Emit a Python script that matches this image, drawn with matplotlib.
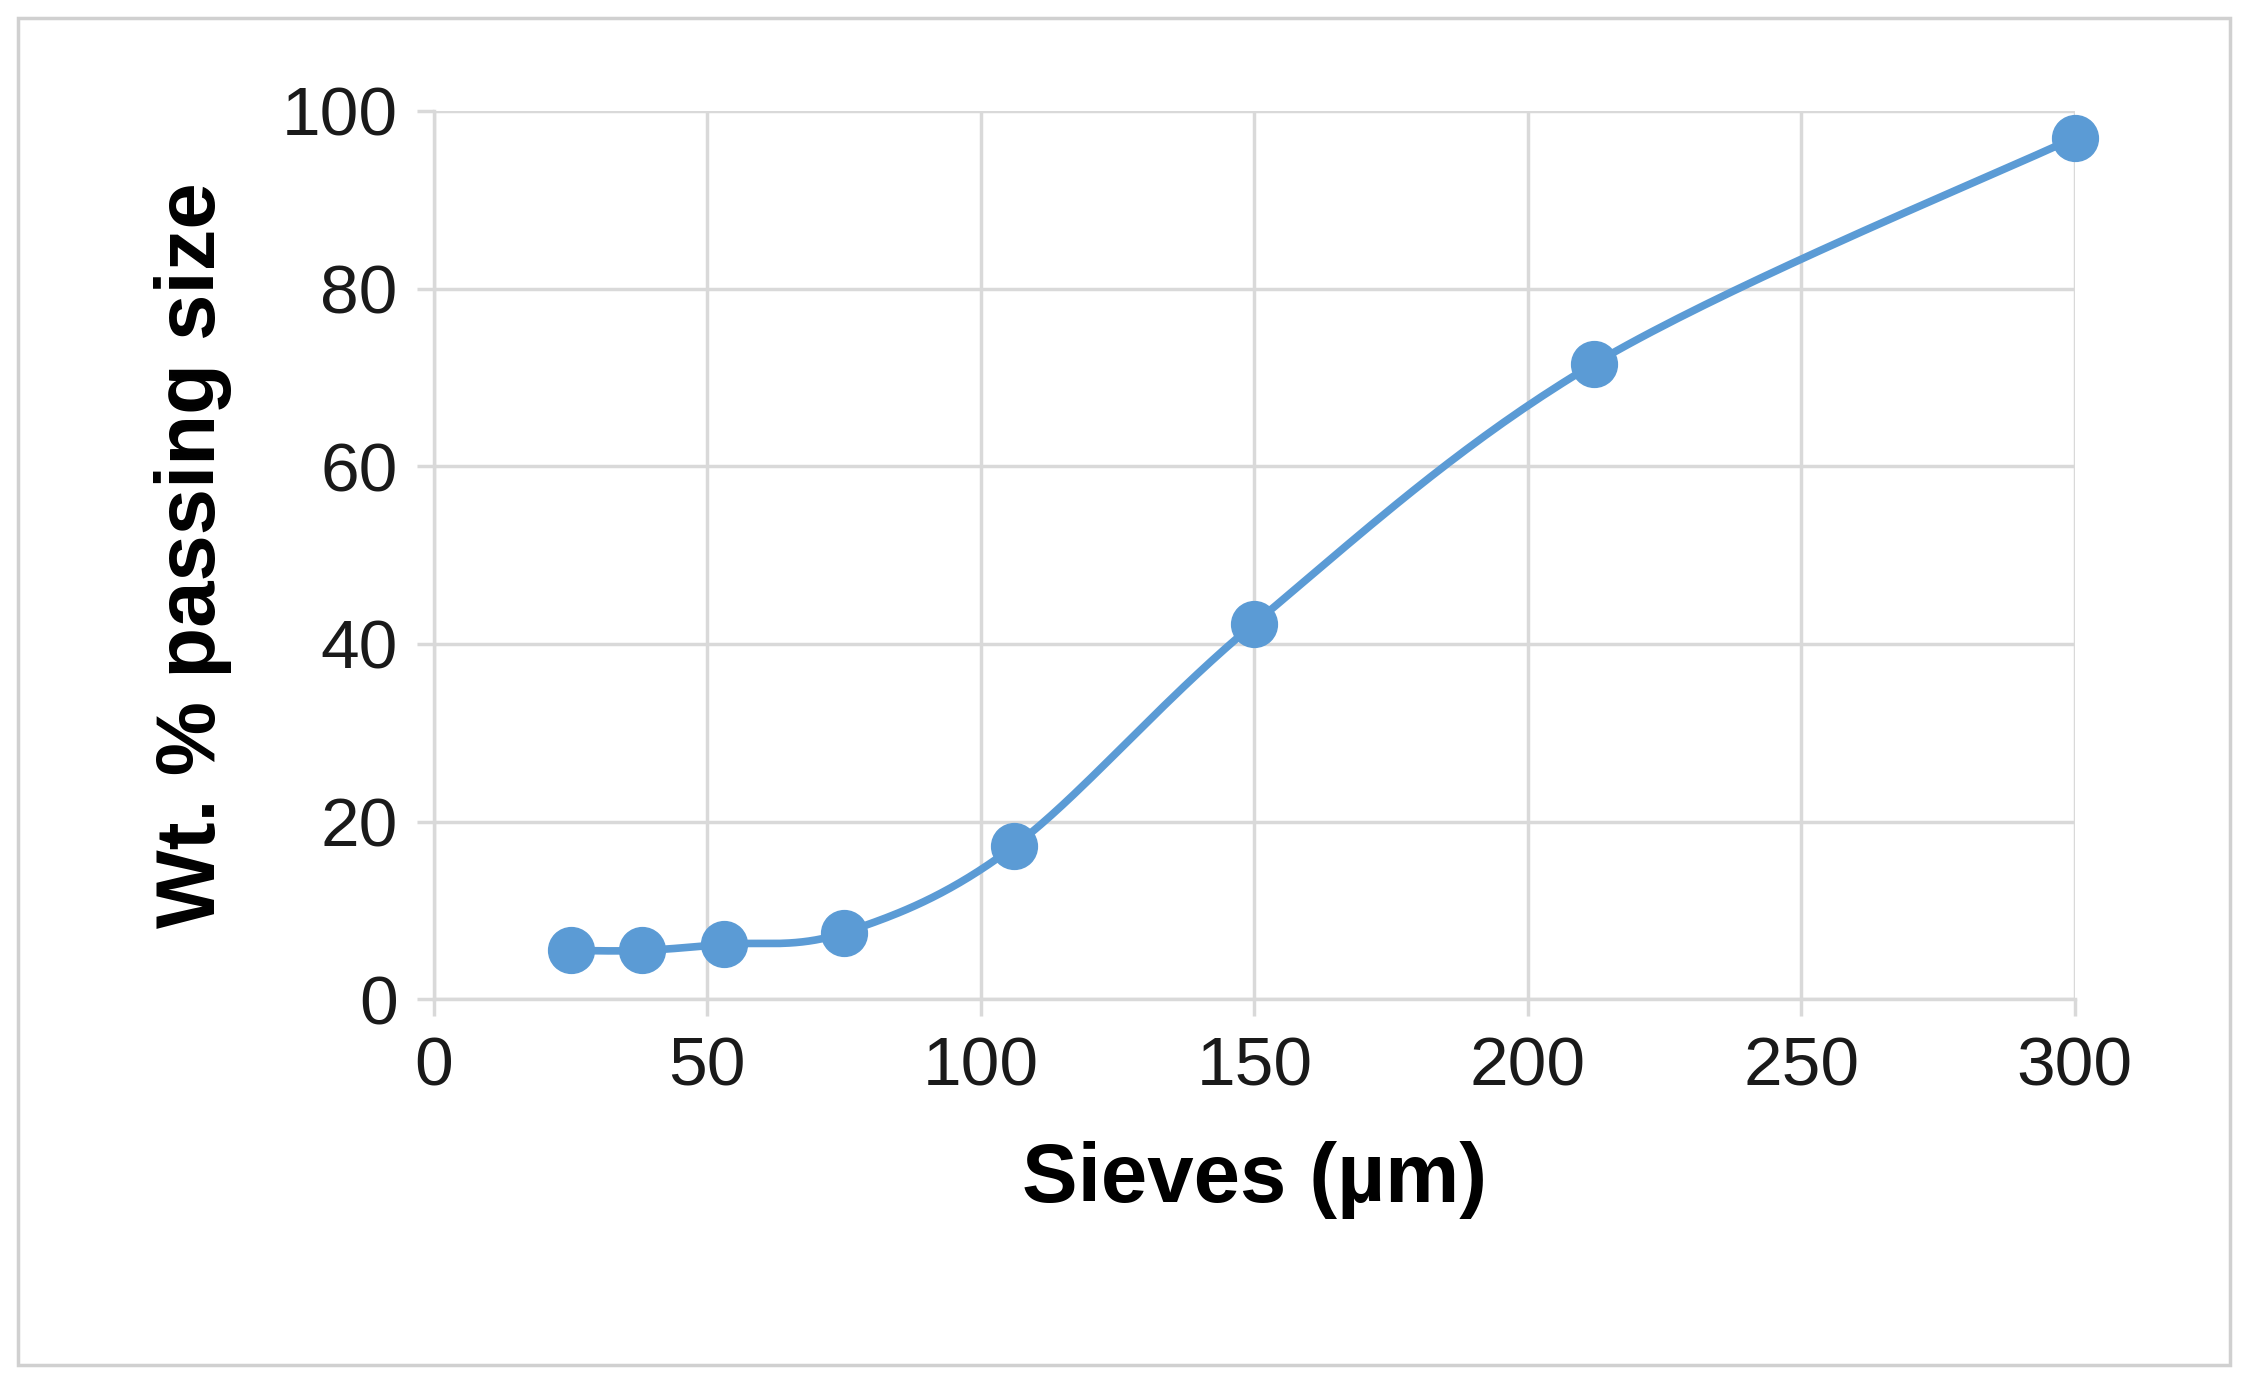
import numpy as np
import matplotlib
matplotlib.use("Agg")
import matplotlib.pyplot as plt
from matplotlib.patches import Rectangle

sieves = [25, 38, 53, 75, 106, 150, 212, 300]
passing = [5.5, 5.5, 6.2, 7.5, 17.2, 42.3, 71.5, 97.0]
xticks = [0, 50, 100, 150, 200, 250, 300]
yticks = [0, 20, 40, 60, 80, 100]

plt.rcParams['font.family'] = ['Liberation Sans', 'DejaVu Sans']
fig = plt.figure(figsize=(22.48, 13.86), dpi=100)
fig.patches.append(Rectangle((0.008, 0.015), 0.984, 0.972, transform=fig.transFigure,
                             fill=False, edgecolor='#d0d0d0', linewidth=2.5))
ax = fig.add_axes([0.193, 0.279, 0.730, 0.641])

# Excel-like smoothed line (Catmull-Rom Bezier through the points)
x = np.array(sieves, float); y = np.array(passing, float)
px = np.concatenate([[x[0]], x, [x[-1]]]); py = np.concatenate([[y[0]], y, [y[-1]]])
sx, sy = [], []
t = np.linspace(0, 1, 40)
for i in range(len(x) - 1):
    p0 = np.array([x[i], y[i]]); p3 = np.array([x[i+1], y[i+1]])
    d1 = np.array([px[i+2]-px[i], py[i+2]-py[i]]) / 6
    d2 = np.array([px[i+3]-px[i+1], py[i+3]-py[i+1]]) / 6
    p1 = p0 + d1; p2 = p3 - d2
    b = ((1-t)**3)[:, None]*p0 + (3*(1-t)**2*t)[:, None]*p1 + (3*(1-t)*t**2)[:, None]*p2 + (t**3)[:, None]*p3
    sx.extend(b[:, 0]); sy.extend(b[:, 1])
color = '#5b9bd5'
ax.plot(sx, sy, color=color, linewidth=5.5, zorder=3, clip_on=False)
ax.plot(x, y, 'o', color=color, markersize=33, zorder=4, clip_on=False)

ax.set_xlim(0, 300); ax.set_ylim(0, 100)
ax.set_xticks(xticks); ax.set_yticks(yticks)
ax.grid(True, color='#d9d9d9', linewidth=2.5)
ax.set_axisbelow(True)
for s in ['top', 'right']:
    ax.spines[s].set_visible(False)
for s in ['left', 'bottom']:
    ax.spines[s].set_color('#d9d9d9'); ax.spines[s].set_linewidth(2.5)
ax.tick_params(axis='both', labelsize=50, colors='#d9d9d9', labelcolor='#1a1a1a',
               length=12, width=2.5, pad=14, direction='out')
ax.set_xlabel('Sieves (µm)', fontsize=60, fontweight='bold', labelpad=30)
ax.set_ylabel('Wt. % passing size', fontsize=60, fontweight='bold', labelpad=36)
fig.savefig('out.png', dpi=100)
